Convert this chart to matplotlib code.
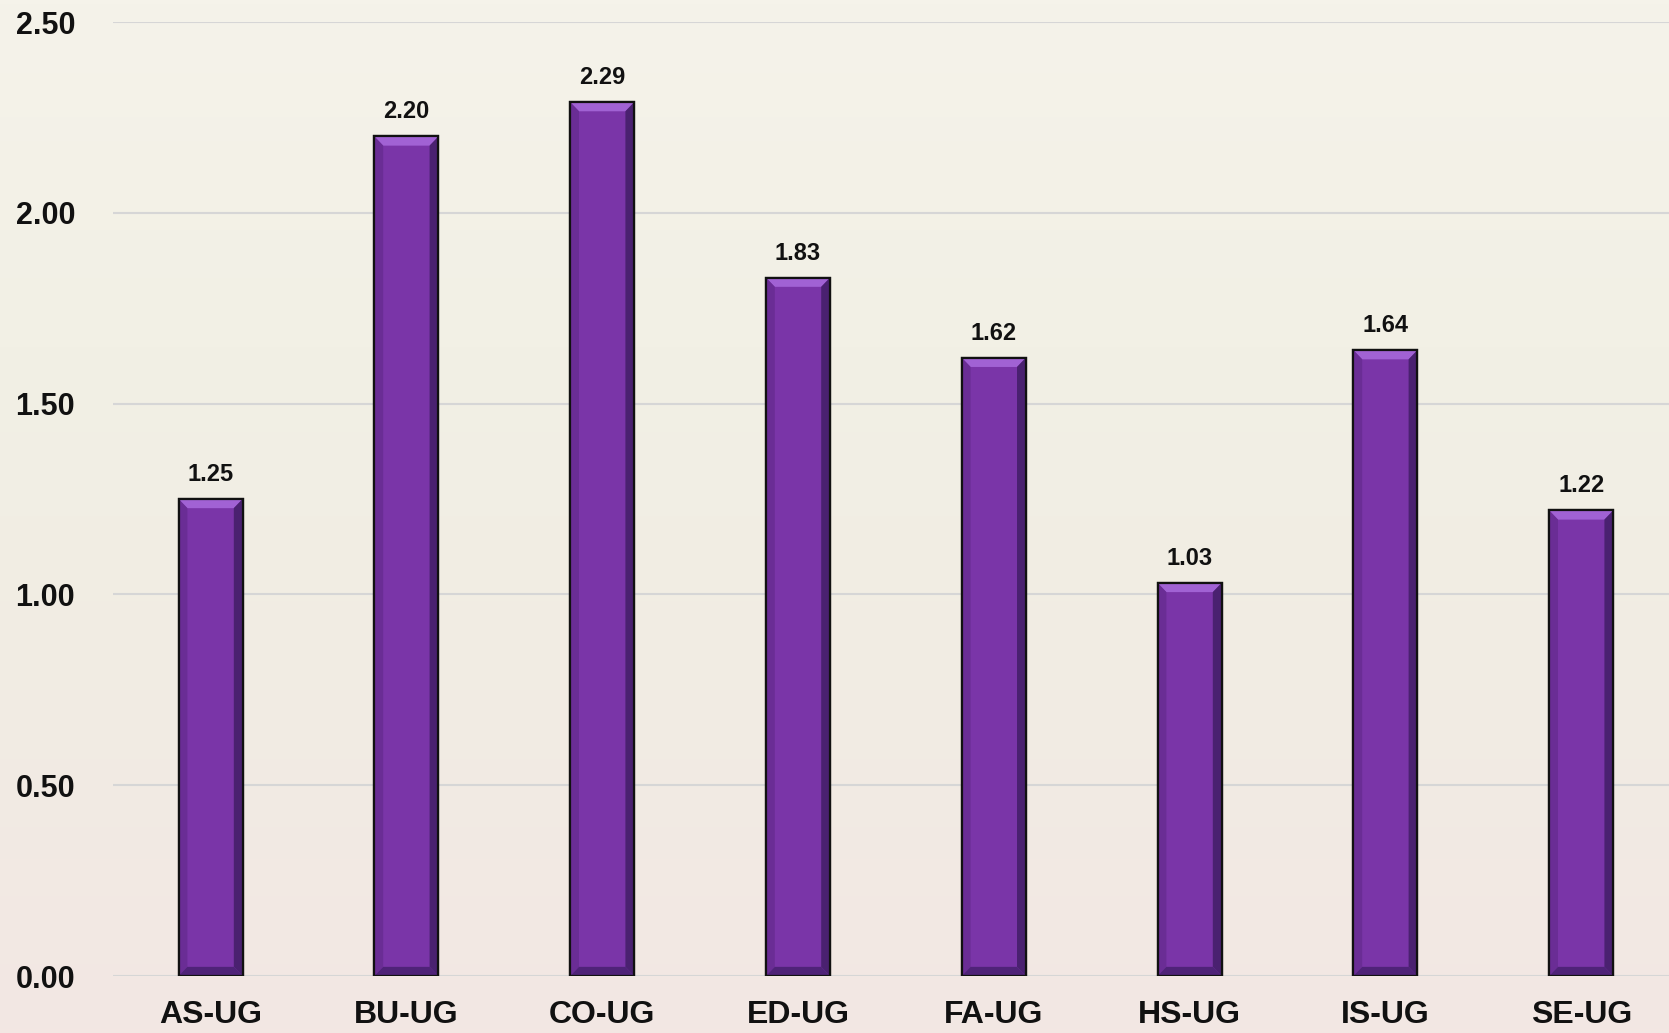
import matplotlib
matplotlib.use("Agg")
import matplotlib.pyplot as plt
import numpy as np
from matplotlib.patches import Polygon
from matplotlib.colors import LinearSegmentedColormap

categories = ["AS-UG", "BU-UG", "CO-UG", "ED-UG", "FA-UG", "HS-UG", "IS-UG", "SE-UG"]
values = [1.25, 2.20, 2.29, 1.83, 1.62, 1.03, 1.64, 1.22]
yticks = [0.0, 0.5, 1.0, 1.5, 2.0, 2.5]
ytick_labels = ["0.00", "0.50", "1.00", "1.50", "2.00", "2.50"]

W, H = 1669, 1033
fig = plt.figure(figsize=(W / 100, H / 100), dpi=100)

# background gradient
bg = fig.add_axes([0, 0, 1, 1], zorder=-10)
cmap = LinearSegmentedColormap.from_list("bg", ["#f5f3ea", "#f2f0e5", "#f1ece3", "#f3e7e3"])
grad = np.linspace(0, 1, 256).reshape(-1, 1)
bg.imshow(grad, aspect="auto", cmap=cmap, extent=[0, 1, 0, 1], origin="upper")
bg.set_axis_off()

left = 112.7 / W
bottom = (H - 976) / H
top = (H - 22) / H
width = 8 * 195.8 / W
ax = fig.add_axes([left, bottom, width, top - bottom])
ax.patch.set_alpha(0)

x = np.arange(len(categories))
bw = 0.327
bars = ax.bar(x, values, width=bw, color="#7a35a8", edgecolor="#111111", linewidth=1.6, zorder=3)

ax.set_xlim(-0.5, 7.5)
ax.set_ylim(0, 2.5)

# bevel decorations derived from each bar's rectangle
dx = 0.045
dy = 0.024
for rect in bars:
    x0 = rect.get_x()
    x1 = x0 + rect.get_width()
    h = rect.get_height()
    ax.add_patch(Polygon([[x0, h], [x1, h], [x1 - dx, h - dy], [x0 + dx, h - dy]],
                         closed=True, facecolor="#a162d4", edgecolor="none", zorder=4))
    ax.add_patch(Polygon([[x1, h], [x1, 0], [x1 - dx, dy], [x1 - dx, h - dy]],
                         closed=True, facecolor="#4a2170", edgecolor="none", zorder=4))
    ax.add_patch(Polygon([[x0, h], [x0, 0], [x0 + dx, dy], [x0 + dx, h - dy]],
                         closed=True, facecolor="#6a2d95", edgecolor="none", zorder=4))
    ax.add_patch(Polygon([[x0, 0], [x1, 0], [x1 - dx, dy], [x0 + dx, dy]],
                         closed=True, facecolor="#4f2378", edgecolor="none", zorder=4))
    ax.add_patch(Polygon([[x0, 0], [x0, h], [x1, h], [x1, 0]], closed=True,
                         facecolor="none", edgecolor="#111111", linewidth=1.6, zorder=5))
    ax.annotate(f"{h:.2f}", (rect.get_x() + rect.get_width() / 2, h), xytext=(0, 13),
                textcoords="offset points", ha="center", va="baseline",
                fontsize=17, fontweight="bold", family="Liberation Sans", color="#111111")

ax.set_yticks(yticks)
ax.set_yticklabels(ytick_labels)
ax.set_xticks(x)
ax.set_xticklabels(categories)
for lab in ax.get_yticklabels():
    lab.set_fontfamily("Liberation Sans")
    lab.set_fontweight("bold")
    lab.set_fontsize(22)
    lab.set_color("#111111")
for lab in ax.get_xticklabels():
    lab.set_fontfamily("Liberation Sans")
    lab.set_fontweight("bold")
    lab.set_fontsize(23)
    lab.set_color("#111111")
ax.tick_params(axis="y", length=0, pad=27)
ax.tick_params(axis="x", length=0, pad=17)
ax.grid(axis="y", color="#d6d6d6", linewidth=1.5, zorder=0)
ax.set_axisbelow(True)
for s in ax.spines.values():
    s.set_visible(False)

fig.savefig("out.png", dpi=100)
